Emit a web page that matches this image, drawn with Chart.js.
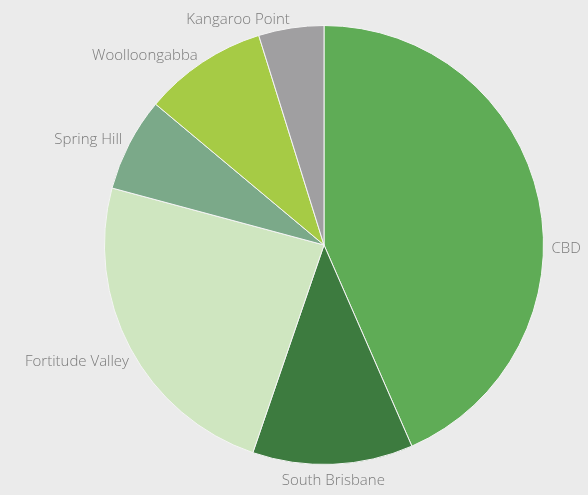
<!DOCTYPE html>
<html>
<head>
<meta charset="utf-8">
<script src="https://cdn.jsdelivr.net/npm/chart.js@4"></script>
<style>
html,body{margin:0;padding:0;background:#ebebeb;}
#wrap{width:588px;height:495px;position:relative;}
</style>
</head>
<body>
<div id="wrap"><canvas id="c" width="588" height="495"></canvas></div>
<script>
const categories = ["CBD", "South Brisbane", "Fortitude Valley", "Spring Hill", "Woolloongabba", "Kangaroo Point"];
const values = [43.4, 11.8, 23.9, 6.9, 9.1, 4.8];
const colors = ["#5fac56", "#3d7b3f", "#cfe6c0", "#7ba989", "#a6cb45", "#a09fa1"];
// label direction overrides (degrees clockwise from top); null = slice mid-angle
const labelAngles = [91, null, 239, null, null, null];

const labelPlugin = {
  id: 'outLabels',
  afterDatasetsDraw(chart) {
    const ctx = chart.ctx;
    const meta = chart.getDatasetMeta(0);
    ctx.save();
    ctx.font = '300 15px "Open Sans", Lato, sans-serif';
    ctx.fillStyle = '#7a7a7a';
    ctx.textBaseline = 'middle';
    meta.data.forEach((arc, i) => {
      const p = arc.getProps(['x','y','startAngle','endAngle','outerRadius'], true);
      let a = (p.startAngle + p.endAngle) / 2;
      if (labelAngles[i] !== null) a = labelAngles[i] * Math.PI / 180 - Math.PI / 2;
      const r = p.outerRadius + 8;
      const cx = Math.cos(a), sy = Math.sin(a);
      let x = p.x + cx * r, y = p.y + sy * r;
      if (Math.abs(cx) < 0.15) {
        ctx.textAlign = 'center';
        y += sy > 0 ? 8 : -8;
      } else if (cx > 0) {
        ctx.textAlign = 'left';
      } else {
        ctx.textAlign = 'right';
      }
      ctx.fillText(categories[i], x, y);
    });
    ctx.restore();
  }
};

new Chart(document.getElementById('c'), {
  type: 'pie',
  data: {
    labels: categories,
    datasets: [{
      data: values,
      backgroundColor: colors,
      borderColor: '#f4f4f4',
      borderWidth: 1
    }]
  },
  options: {
    responsive: false,
    animation: false,
    layout: { padding: { left: 104, right: 44, top: 25, bottom: 30 } },
    plugins: { legend: { display: false }, tooltip: { enabled: false } }
  },
  plugins: [labelPlugin]
});
</script>
</body>
</html>
